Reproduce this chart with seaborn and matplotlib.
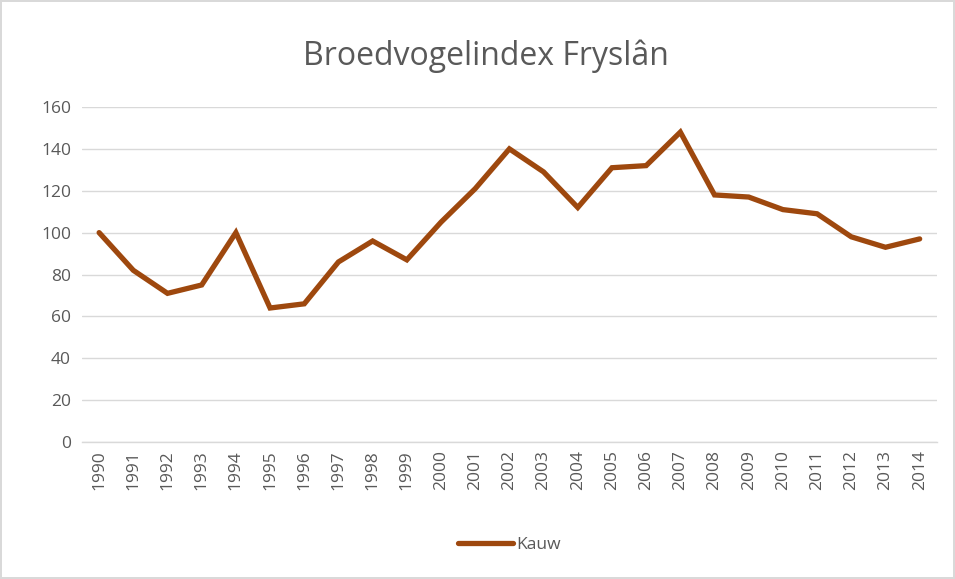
import pandas as pd
import matplotlib.pyplot as plt
import seaborn as sns

# Data
years = [str(y) for y in range(1990, 2015)]
kauw = [100, 82, 71, 75, 100, 64, 66, 86, 96, 87, 105, 121, 140, 129, 112,
        131, 132, 148, 118, 117, 111, 109, 98, 93, 97]
y_ticks = [0, 20, 40, 60, 80, 100, 120, 140, 160]

df = pd.DataFrame({'Jaar': years, 'Kauw': kauw})

sns.set_theme(style='white')
plt.rcParams['font.family'] = ['Open Sans', 'DejaVu Sans']

text_color = '#595959'
line_color = '#9E480E'

fig = plt.figure(figsize=(9.55, 5.79), dpi=100)
ax = fig.add_axes([0.0859, 0.2366, 0.895, 0.5786])

sns.lineplot(data=df, x='Jaar', y='Kauw', sort=False, color=line_color,
             linewidth=3.8, solid_capstyle='round', solid_joinstyle='miter',
             label='Kauw', ax=ax)

ax.set_xlim(-0.5, len(years) - 0.5)
ax.set_ylim(0, 160)
ax.set_yticks(y_ticks)
ax.yaxis.grid(True, color='#D9D9D9', linewidth=1.0)
ax.set_axisbelow(True)
for side in ['top', 'right', 'left']:
    ax.spines[side].set_visible(False)
ax.spines['bottom'].set_color('#D9D9D9')
ax.spines['bottom'].set_linewidth(1.0)

ax.tick_params(axis='x', labelrotation=90, labelsize=12.5, colors=text_color,
               length=0, pad=6)
ax.tick_params(axis='y', labelsize=12.5, colors=text_color, length=0, pad=8)
ax.set_xlabel('')
ax.set_ylabel('')

# chart title, centred on the whole figure as in the reference
fig.text(0.509, 0.903, 'Broedvogelindex Fryslân', fontsize=23,
         color=text_color, ha='center', va='center')

leg = ax.legend(loc='center', bbox_to_anchor=(0.5, -0.307), frameon=False,
                fontsize=12.5, handlelength=3.2, handletextpad=0.2)
for t in leg.get_texts():
    t.set_color(text_color)

fig.patch.set_edgecolor('#D9D9D9')
fig.patch.set_linewidth(1.5)

fig.savefig('out.png', dpi=100, edgecolor=fig.get_edgecolor())
